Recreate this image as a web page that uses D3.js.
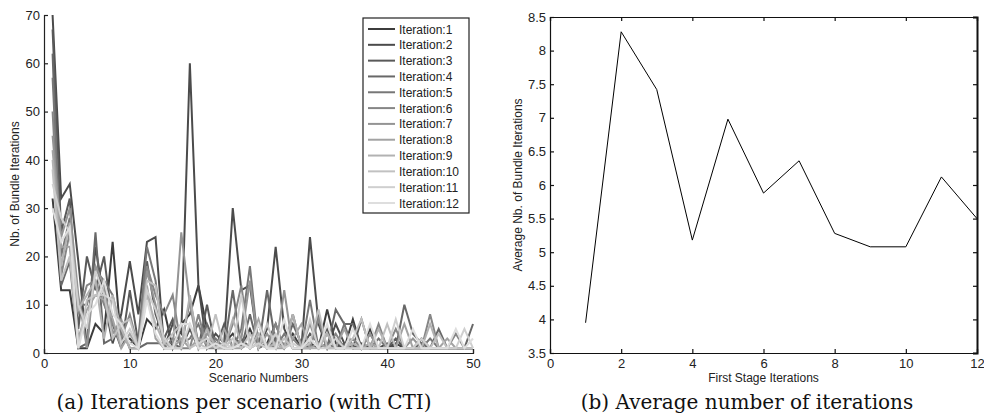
<!DOCTYPE html>
<html><head><meta charset="utf-8">
<script src="https://cdn.jsdelivr.net/npm/d3@7"></script>
<style>
body{margin:0;background:#fff;}
svg{display:block;}
.tk text{font-family:"Liberation Sans",Arial,sans-serif;font-size:13px;fill:#222;}
.ttl{font-family:"Liberation Sans",Arial,sans-serif;font-size:12px;fill:#222;}
.cap{font-family:"DejaVu Serif","Liberation Serif",serif;font-size:20px;fill:#111;}
.leg{font-family:"Liberation Sans",Arial,sans-serif;font-size:12px;fill:#222;}
</style></head><body>
<svg id="c" width="984" height="419"></svg>
<script>
// ---- Left chart data: bundle iterations per scenario, for each first-stage iteration ----
const scenarios = d3.range(1, 51);
const iter1  = [32,13,13,1,1,6,4,23,2,3, 1,7,5,9,1,6,8,14,5,1, 2,4,1,5,1,2,6,1,4,1, 2,1,9,2,1,7,1,5,1,1, 2,1,1,3,1,1,1,1,1,1];
const iter2  = [70,32,35,19,1,22,11,2,8,19, 8,23,24,1,6,4,60,14,1,4, 2,30,13,14,1,5,22,5,1,1, 24,6,1,6,2,1,2,1,1,2, 1,1,1,1,1,1,1,1,1,1];
const iter3  = [67,25,32,5,20,13,20,6,1,13, 2,19,8,3,7,1,5,1,10,1, 6,1,3,1,6,1,3,1,8,1, 4,2,5,1,2,1,7,1,1,1, 3,1,1,2,1,1,1,1,1,1];
const iter4  = [62,14,19,1,2,25,2,3,5,1, 1,2,2,2,2,1,11,2,6,2, 1,13,1,8,1,13,2,1,6,2, 1,8,1,9,6,6,1,4,1,1, 1,10,4,2,1,5,1,1,1,6];
const iter5  = [57,20,28,10,10,17,15,12,4,2, 3,22,15,1,3,2,3,6,1,3, 1,1,5,18,1,2,1,4,1,1, 11,1,2,1,6,1,1,1,3,1, 1,1,1,1,3,1,1,1,1,1];
const iter6  = [50,16,25,8,14,15,10,6,3,8, 1,18,12,8,12,1,1,8,1,1, 1,6,14,1,2,1,6,1,3,1, 1,7,1,4,1,3,1,1,6,1, 5,1,1,1,8,1,1,4,1,1];
const iter7  = [45,24,30,12,1,18,14,4,7,1, 1,17,10,1,1,25,10,1,4,2, 1,1,3,15,1,4,1,13,1,1, 6,1,4,1,1,1,1,4,1,1, 1,1,3,1,1,1,1,1,1,1];
const iter8  = [42,22,22,3,9,12,11,7,1,4, 1,14,3,1,1,3,1,3,2,1, 5,1,1,2,7,1,1,1,3,6, 1,2,1,1,5,1,1,2,1,1, 1,6,1,1,1,1,3,1,1,1];
const iter9  = [40,18,27,9,12,15,3,12,5,1, 1,12,6,2,1,1,12,1,5,1, 1,7,2,1,4,1,2,1,8,1, 1,1,4,1,1,2,1,1,5,1, 1,1,1,1,6,1,1,1,1,1];
const iter10 = [38,15,20,1,11,12,12,3,6,7, 1,15,14,2,4,6,1,2,1,8, 1,3,1,4,1,6,1,3,1,1, 2,9,1,1,1,3,7,1,1,6, 1,1,1,1,1,4,1,1,1,1];
const iter11 = [35,28,25,10,5,17,12,11,2,5, 1,13,9,3,1,1,6,2,3,1, 2,1,12,1,2,1,4,1,2,1, 7,1,1,3,1,1,1,1,1,1, 7,1,1,3,1,1,1,1,5,1];
const iter12 = [30,23,26,1,8,10,15,8,6,2, 1,11,4,1,1,6,6,1,1,2, 1,1,2,1,6,1,1,7,1,1, 3,1,6,1,1,5,1,6,1,1, 1,1,5,1,1,1,1,5,1,3];
const seriesNames = ["Iteration:1","Iteration:2","Iteration:3","Iteration:4","Iteration:5","Iteration:6",
                     "Iteration:7","Iteration:8","Iteration:9","Iteration:10","Iteration:11","Iteration:12"];
const seriesValues = [iter1,iter2,iter3,iter4,iter5,iter6,iter7,iter8,iter9,iter10,iter11,iter12];
const leftXTicks = [0,10,20,30,40,50];
const leftYTicks = [0,10,20,30,40,50,60,70];

// ---- Right chart data: average bundle iterations per first-stage iteration ----
const stageIters = [1,2,3,4,5,6,7,8,9,10,11,12];
const avgIters   = [3.95,8.28,7.42,5.18,6.98,5.88,6.36,5.28,5.08,5.08,6.12,5.50];
const rightXTicks = [0,2,4,6,8,10,12];
const rightYTicks = [3.5,4,4.5,5,5.5,6,6.5,7,7.5,8,8.5];

const svg = d3.select("#c");

// ================= LEFT =================
const L = {x0:44, x1:473, y0:353, y1:15};
const lx = d3.scaleLinear().domain([0,50]).range([L.x0,L.x1]);
const ly = d3.scaleLinear().domain([0,70]).range([L.y0,L.y1]);
const gray = d3.scaleLinear().domain([0,11]).range(["#3c3c3c","#dedede"]);

const lg = svg.append("g");
const line = d3.line().x((d,i)=>lx(scenarios[i])).y(d=>ly(d));
seriesValues.forEach((vals,k)=>{
  lg.append("path").datum(vals).attr("d",line)
    .attr("fill","none").attr("stroke",gray(k)).attr("stroke-width",2).attr("stroke-linejoin","miter");
});

const lax = svg.append("g").attr("class","tk").attr("transform",`translate(0,${L.y0})`)
  .call(d3.axisBottom(lx).tickValues(leftXTicks).tickSize(-4).tickPadding(6).tickFormat(d3.format("d")));
const lay = svg.append("g").attr("class","tk").attr("transform",`translate(${L.x0},0)`)
  .call(d3.axisLeft(ly).tickValues(leftYTicks).tickSize(-4).tickPadding(4).tickFormat(d3.format("d")));
[lax,lay].forEach(a=>{a.selectAll("path,line").attr("stroke","#222").attr("stroke-width",1.2);});

svg.append("text").attr("class","ttl").attr("x",(L.x0+L.x1)/2).attr("y",382).attr("text-anchor","middle").text("Scenario Numbers");
svg.append("text").attr("class","ttl").attr("transform",`translate(19,${(L.y0+L.y1)/2}) rotate(-90)`).attr("text-anchor","middle").text("Nb. of Bundle Iterations");

// legend
const lgx0 = 363, lgy0 = 18, lgw = 106, lgh = 195;
svg.append("rect").attr("x",lgx0).attr("y",lgy0).attr("width",lgw).attr("height",lgh)
  .attr("fill","#fff").attr("stroke","#222").attr("stroke-width",1.2);
const ls = d3.scaleLinear().domain([0,11]).range([lgy0+11,lgy0+185]);
seriesNames.forEach((n,k)=>{
  svg.append("line").attr("x1",lgx0+5).attr("x2",lgx0+32).attr("y1",ls(k)).attr("y2",ls(k))
    .attr("stroke",gray(k)).attr("stroke-width",2);
  svg.append("text").attr("class","leg").attr("x",lgx0+36).attr("y",ls(k)+4.5).text(n);
});

svg.append("text").attr("class","cap").attr("x",244).attr("y",409).attr("text-anchor","middle").text("(a) Iterations per scenario (with CTI)");

// ================= RIGHT =================
const R = {x0:550, x1:977, y0:353, y1:17};
const rx = d3.scaleLinear().domain([0,12]).range([R.x0,R.x1]);
const ry = d3.scaleLinear().domain([3.5,8.5]).range([R.y0,R.y1]);
const fmt = d=>d3.format("~g")(d);

const rb = svg.append("g").attr("class","tk").attr("transform",`translate(0,${R.y0})`)
  .call(d3.axisBottom(rx).tickValues(rightXTicks).tickSize(-4).tickPadding(6).tickFormat(d3.format("d")));
const rt = svg.append("g").attr("transform",`translate(0,${R.y1})`)
  .call(d3.axisTop(rx).tickValues(rightXTicks).tickSize(-4).tickFormat(""));
const rl = svg.append("g").attr("class","tk").attr("transform",`translate(${R.x0},0)`)
  .call(d3.axisLeft(ry).tickValues(rightYTicks).tickSize(-4).tickPadding(4).tickFormat(fmt));
const rr = svg.append("g").attr("transform",`translate(${R.x1},0)`)
  .call(d3.axisRight(ry).tickValues(rightYTicks).tickSize(-4).tickFormat(""));
[rb,rt,rl,rr].forEach(a=>{a.selectAll("path,line").attr("stroke","#111").attr("stroke-width",1.2);});
rr.select("path").attr("stroke-width",2);

svg.append("path").datum(avgIters)
  .attr("d",d3.line().x((d,i)=>rx(stageIters[i])).y(d=>ry(d)))
  .attr("fill","none").attr("stroke","#000").attr("stroke-width",1);

svg.append("text").attr("class","ttl").attr("x",(R.x0+R.x1)/2).attr("y",382).attr("text-anchor","middle").text("First Stage Iterations");
svg.append("text").attr("class","ttl").attr("transform",`translate(522,${(R.y0+R.y1)/2}) rotate(-90)`).attr("text-anchor","middle").text("Average Nb. of Bundle Iterations");

svg.append("text").attr("class","cap").attr("x",747).attr("y",409).attr("text-anchor","middle").text("(b) Average number of iterations");
</script></body></html>
